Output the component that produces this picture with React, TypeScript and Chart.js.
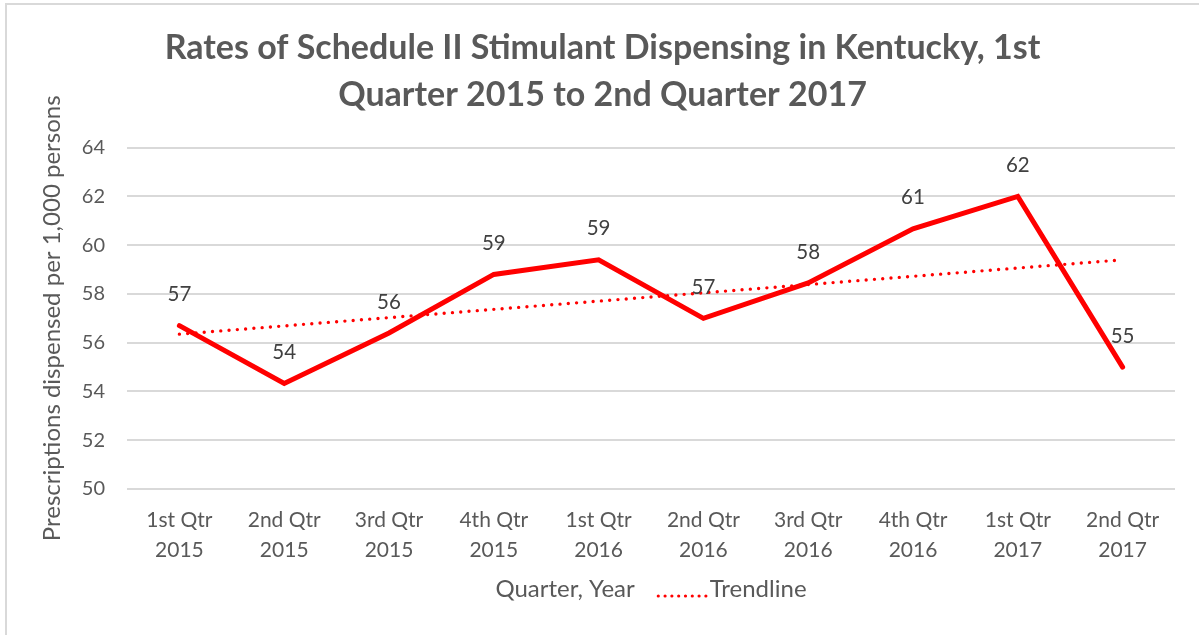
import React, { useEffect, useRef } from "react";
import { Chart, registerables } from "chart.js";

Chart.register(...registerables);

const chartTitle = [
  "Rates of Schedule II Stimulant Dispensing in Kentucky, 1st",
  "Quarter 2015 to 2nd Quarter 2017",
];
const quarters = [
  ["1st Qtr", "2015"],
  ["2nd Qtr", "2015"],
  ["3rd Qtr", "2015"],
  ["4th Qtr", "2015"],
  ["1st Qtr", "2016"],
  ["2nd Qtr", "2016"],
  ["3rd Qtr", "2016"],
  ["4th Qtr", "2016"],
  ["1st Qtr", "2017"],
  ["2nd Qtr", "2017"],
];
const rates = [56.7, 54.33, 56.4, 58.8, 59.4, 57.0, 58.45, 60.67, 62.0, 55.0];
const trendline = [56.35, null, null, null, null, null, null, null, null, 59.4];
const yMin = 50;
const yMax = 64;
const yStep = 2;
const yAxisTitle = "Prescriptions dispensed per 1,000 persons";
const seriesName = "Quarter, Year";
const trendName = "Trendline";

const FONT = "Lato, 'Open Sans', sans-serif";
const TEXT = "#595959";
const LABEL = "#404040";
const RED = "#FF0000";

const dataLabelPlugin = {
  id: "dataLabels",
  afterDatasetsDraw(chart: any) {
    const ctx = chart.ctx;
    const meta = chart.getDatasetMeta(0);
    const values = chart.data.datasets[0].data;
    ctx.save();
    ctx.font = `20.5px ${FONT}`;
    ctx.fillStyle = LABEL;
    ctx.textAlign = "center";
    ctx.textBaseline = "middle";
    meta.data.forEach((pt: any, i: number) => {
      ctx.fillText(String(Math.round(values[i])), pt.x, pt.y - 31);
    });
    ctx.restore();
  },
};

const legendPlugin = {
  id: "customLegend",
  afterDraw(chart: any) {
    const ctx = chart.ctx;
    const area = chart.chartArea;
    ctx.save();
    ctx.font = `24px ${FONT}`;
    const w1 = ctx.measureText(seriesName).width;
    const w2 = ctx.measureText(trendName).width;
    const gap = 22;
    const lineLen = 50;
    const gap2 = 3;
    const total = w1 + gap + lineLen + gap2 + w2;
    const cx = (area.left + area.right) / 2;
    let x = cx - total / 2;
    const y = 589;
    ctx.fillStyle = TEXT;
    ctx.textBaseline = "middle";
    ctx.textAlign = "left";
    ctx.fillText(seriesName, x, y);
    x += w1 + gap;
    ctx.strokeStyle = RED;
    ctx.lineWidth = 3.2;
    ctx.lineCap = "round";
    ctx.setLineDash([0, 6.8]);
    ctx.beginPath();
    ctx.moveTo(x + 1.5, y + 7);
    ctx.lineTo(x + lineLen, y + 7);
    ctx.stroke();
    ctx.setLineDash([]);
    x += lineLen + gap2;
    ctx.fillText(trendName, x, y);
    ctx.restore();
  },
};

export default function App() {
  const canvasRef = useRef<HTMLCanvasElement | null>(null);

  useEffect(() => {
    document.body.style.margin = "0";
    const canvas = canvasRef.current;
    if (!canvas) return;
    const chart = new Chart(canvas, {
      type: "line",
      data: {
        labels: quarters,
        datasets: [
          {
            label: seriesName,
            data: rates,
            borderColor: RED,
            backgroundColor: RED,
            borderWidth: 5,
            pointRadius: 0,
            borderJoinStyle: "miter",
            borderCapStyle: "round",
            tension: 0,
            fill: false,
          },
          {
            label: trendName,
            data: trendline,
            borderColor: RED,
            backgroundColor: RED,
            borderWidth: 3.4,
            borderDash: [0, 8.3],
            borderCapStyle: "round",
            pointRadius: 0,
            spanGaps: true,
            fill: false,
          },
        ],
      },
      options: {
        responsive: false,
        animation: false,
        layout: { padding: { left: 30, right: 24, top: 24.6, bottom: 70 } },
        plugins: {
          legend: { display: false },
          tooltip: { enabled: false },
          title: {
            display: true,
            text: chartTitle,
            color: TEXT,
            font: { family: FONT, size: 34, weight: "bold", lineHeight: 1.39 },
            padding: { top: 0, bottom: 28.5 },
          },
        },
        scales: {
          x: {
            offset: true,
            grid: { display: false, drawTicks: false },
            border: { display: false },
            ticks: {
              color: TEXT,
              font: { family: FONT, size: 21, lineHeight: 1.43 },
              padding: 16,
              maxRotation: 0,
              autoSkip: false,
            },
            afterFit: (s: any) => {
              s.height = 76;
            },
          },
          y: {
            min: yMin,
            max: yMax,
            grid: { color: "#D9D9D9", lineWidth: 2, drawTicks: false },
            border: { display: false },
            ticks: {
              stepSize: yStep,
              color: TEXT,
              font: { family: FONT, size: 20 },
              padding: 22,
            },
            title: {
              display: true,
              text: yAxisTitle,
              color: TEXT,
              font: { family: FONT, size: 24, lineHeight: 1.2 },
              padding: { top: 8, bottom: 0 },
            },
            afterFit: (s: any) => {
              s.width = 97;
            },
          },
        },
      },
      plugins: [dataLabelPlugin, legendPlugin],
    });
    return () => chart.destroy();
  }, []);

  return (
    <div
      style={{
        position: "fixed",
        left: 0,
        top: 0,
        width: 1199,
        height: 635,
        background: "#FFFFFF",
        overflow: "hidden",
      }}
    >
      <div
        style={{
          position: "absolute",
          left: 5,
          top: 3,
          width: 1300,
          height: 700,
          border: "2px solid #D9D9D9",
          boxSizing: "border-box",
        }}
      />
      <canvas
        ref={canvasRef}
        width={1199}
        height={635}
        style={{ position: "absolute", left: 0, top: 0, width: 1199, height: 635 }}
      />
    </div>
  );
}
